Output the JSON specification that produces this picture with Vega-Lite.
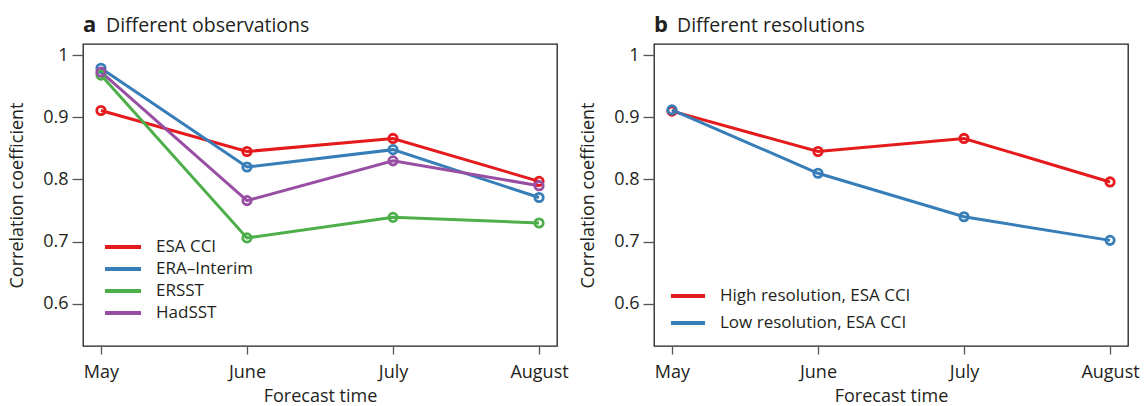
{
  "$schema": "https://vega.github.io/schema/vega-lite/v6.json",
  "background": "white",
  "padding": {"left": 8, "top": 13, "right": 6, "bottom": 0},
  "spacing": 10,
  "datasets": {
    "obs": [
      {"month": "May", "series": "ESA CCI", "r": 0.911},
      {"month": "June", "series": "ESA CCI", "r": 0.845},
      {"month": "July", "series": "ESA CCI", "r": 0.866},
      {"month": "August", "series": "ESA CCI", "r": 0.797},
      {"month": "May", "series": "ERA\u2013Interim", "r": 0.979},
      {"month": "June", "series": "ERA\u2013Interim", "r": 0.820},
      {"month": "July", "series": "ERA\u2013Interim", "r": 0.848},
      {"month": "August", "series": "ERA\u2013Interim", "r": 0.771},
      {"month": "May", "series": "ERSST", "r": 0.968},
      {"month": "June", "series": "ERSST", "r": 0.706},
      {"month": "July", "series": "ERSST", "r": 0.739},
      {"month": "August", "series": "ERSST", "r": 0.730},
      {"month": "May", "series": "HadSST", "r": 0.973},
      {"month": "June", "series": "HadSST", "r": 0.766},
      {"month": "July", "series": "HadSST", "r": 0.830},
      {"month": "August", "series": "HadSST", "r": 0.790}
    ],
    "res": [
      {"month": "May", "series": "High resolution, ESA CCI", "r": 0.910},
      {"month": "June", "series": "High resolution, ESA CCI", "r": 0.845},
      {"month": "July", "series": "High resolution, ESA CCI", "r": 0.866},
      {"month": "August", "series": "High resolution, ESA CCI", "r": 0.796},
      {"month": "May", "series": "Low resolution, ESA CCI", "r": 0.912},
      {"month": "June", "series": "Low resolution, ESA CCI", "r": 0.810},
      {"month": "July", "series": "Low resolution, ESA CCI", "r": 0.740},
      {"month": "August", "series": "Low resolution, ESA CCI", "r": 0.702}
    ]
  },
  "resolve": {"scale": {"color": "independent", "y": "independent", "x": "independent"}, "legend": {"color": "independent"}},
  "hconcat": [
    {
      "title": {"text": "a", "fontWeight": "bold", "fontSize": 22, "offset": -22},
      "vconcat": [
        {
          "width": 474,
          "height": 302,
          "data": {"name": "obs"},
          "title": {"text": "Different observations", "dx": 23, "fontWeight": "normal", "fontSize": 19.5},
          "encoding": {
            "x": {"field": "month", "type": "ordinal", "sort": ["May", "June", "July", "August"],
              "scale": {"type": "point", "padding": 0.123, "domain": ["May", "June", "July", "August"]},
              "axis": {"title": "Forecast time"}},
            "y": {"field": "r", "type": "quantitative",
              "scale": {"domain": [0.532, 1.018], "nice": false, "zero": false},
              "axis": {"title": "Correlation coefficient", "values": [0.6, 0.7, 0.8, 0.9, 1], "format": "~g"}},
            "color": {"field": "series", "type": "nominal",
              "scale": {"domain": ["ESA CCI", "ERA\u2013Interim", "ERSST", "HadSST"], "range": ["#E41A1C", "#377EB8", "#4DAF4A", "#984EA3"]}}
          },
          "layer": [
            {"mark": {"type": "line", "strokeWidth": 3},
              "encoding": {"color": {"field": "series", "type": "nominal",
                "legend": {"title": null, "orient": "none", "legendX": 26, "legendY": 189, "symbolType": "M-1.5,0H1.5", "symbolSize": 576, "symbolStrokeWidth": 4, "labelFontSize": 17, "labelOffset": 19, "labelLimit": 400, "rowPadding": 0, "padding": 0}}}},
            {"mark": {"type": "point", "filled": false, "strokeWidth": 2.8, "size": 70, "opacity": 1},
              "encoding": {"color": {"field": "series", "type": "nominal", "legend": null}}}
          ]
        }
      ]
    },
    {
      "title": {"text": "b", "fontWeight": "bold", "fontSize": 22, "offset": -22},
      "vconcat": [
        {
          "width": 474,
          "height": 302,
          "data": {"name": "res"},
          "title": {"text": "Different resolutions", "dx": 23, "fontWeight": "normal", "fontSize": 19.5},
          "encoding": {
            "x": {"field": "month", "type": "ordinal", "sort": ["May", "June", "July", "August"],
              "scale": {"type": "point", "padding": 0.123, "domain": ["May", "June", "July", "August"]},
              "axis": {"title": "Forecast time"}},
            "y": {"field": "r", "type": "quantitative",
              "scale": {"domain": [0.532, 1.018], "nice": false, "zero": false},
              "axis": {"title": "Correlation coefficient", "values": [0.6, 0.7, 0.8, 0.9, 1], "format": "~g"}},
            "color": {"field": "series", "type": "nominal",
              "scale": {"domain": ["High resolution, ESA CCI", "Low resolution, ESA CCI"], "range": ["#E41A1C", "#377EB8"]}}
          },
          "layer": [
            {"mark": {"type": "line", "strokeWidth": 3},
              "encoding": {"color": {"field": "series", "type": "nominal",
                "legend": {"title": null, "orient": "none", "legendX": 20, "legendY": 238, "symbolType": "M-1.42,0H1.42", "symbolSize": 576, "symbolStrokeWidth": 4, "labelFontSize": 17, "labelOffset": 18, "labelLimit": 400, "rowPadding": 5, "padding": 0}}}},
            {"mark": {"type": "point", "filled": false, "strokeWidth": 2.8, "size": 70, "opacity": 1},
              "encoding": {"color": {"field": "series", "type": "nominal", "legend": null}}}
          ]
        }
      ]
    }
  ],
  "config": {
    "font": "Open Sans",
    "view": {"stroke": "#231F20", "strokeWidth": 1.3},
    "axis": {
      "domain": false,
      "grid": false,
      "tickColor": "#555",
      "tickWidth": 1.3,
      "labelFont": "Open Sans",
      "labelFontSize": 18,
      "labelColor": "#231F20",
      "titleFont": "Open Sans",
      "titleFontSize": 18,
      "titleFontWeight": "normal",
      "titleColor": "#231F20"
    },
    "axisX": {"tickSize": 8, "labelPadding": 9, "titlePadding": 6, "labelAngle": 0},
    "axisY": {"tickSize": 11, "labelPadding": 4, "titlePadding": 16},
    "legend": {"labelFont": "Open Sans", "labelColor": "#231F20"},
    "title": {
      "anchor": "start",
      "frame": "group",
      "font": "Open Sans",
      "color": "#231F20",
      "offset": 8
    }
  }
}
